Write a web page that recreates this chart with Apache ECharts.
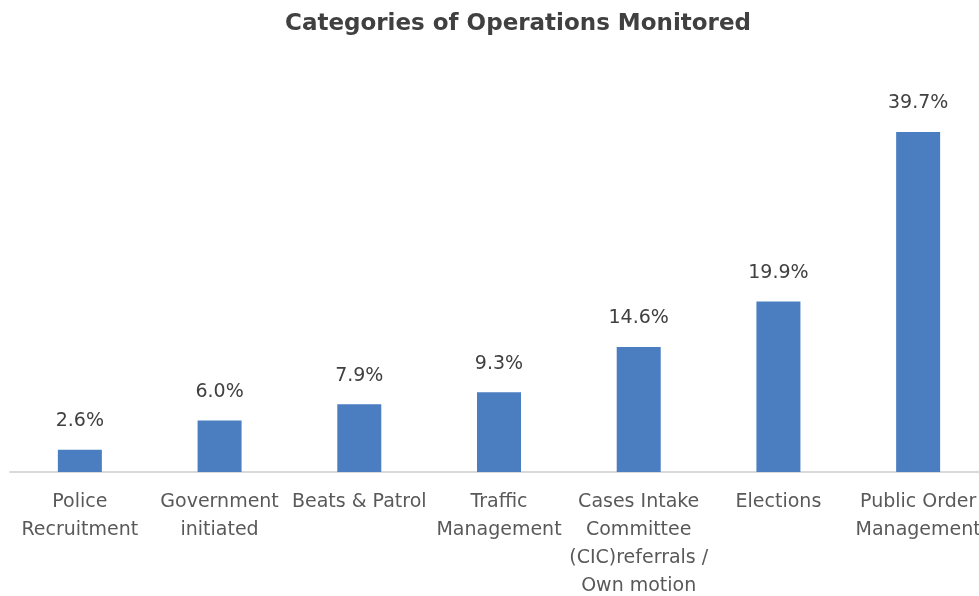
<!DOCTYPE html>
<html>
<head>
<meta charset="utf-8">
<script src="https://cdn.jsdelivr.net/npm/echarts@6/dist/echarts.min.js"></script>
<style>
  html, body { margin: 0; padding: 0; background: #ffffff; }
  #chart { width: 979px; height: 596px; }
</style>
</head>
<body>
<div id="chart"></div>
<script>
// Category names (line breaks as printed under each bar)
const categories = [
  'Police\nRecruitment',
  'Government\ninitiated',
  'Beats & Patrol',
  'Traffic\nManagement',
  'Cases Intake\nCommittee\n(CIC)referrals /\nOwn motion',
  'Elections',
  'Public Order\nManagement'
];

// Share of monitored operations, in percent
const shares = [2.6, 6.0, 7.9, 9.3, 14.6, 19.9, 39.7];

const chart = echarts.init(document.getElementById('chart'));

chart.setOption({
  animation: false,
  title: {
    text: 'Categories of Operations Monitored',
    left: 513,
    textAlign: 'center',
    top: 8,
    textStyle: {
      fontFamily: 'DejaVu Sans',
      fontWeight: 'bold',
      fontSize: 23,
      color: '#404040'
    }
  },
  grid: {
    left: 10,
    width: 978,
    top: 86.6,
    bottom: 124,
    outerBoundsMode: 'none',
    containLabel: false
  },
  xAxis: {
    type: 'category',
    data: categories,
    axisLine: { lineStyle: { color: '#d9d9d9', width: 2 } },
    axisTick: { show: false },
    axisLabel: {
      interval: 0,
      margin: 16,
      fontFamily: 'DejaVu Sans',
      fontSize: 19,
      lineHeight: 28,
      color: '#595959'
    }
  },
  yAxis: {
    type: 'value',
    min: 0,
    max: 45,
    show: false,
    splitLine: { show: false }
  },
  series: [{
    type: 'bar',
    data: shares,
    barWidth: 44,
    itemStyle: { color: '#4a7ec1' },
    label: {
      show: true,
      position: 'top',
      distance: 19,
      fontFamily: 'DejaVu Sans',
      fontSize: 19,
      color: '#404040',
      formatter: p => p.value.toFixed(1) + '%'
    }
  }]
});
</script>
</body>
</html>
